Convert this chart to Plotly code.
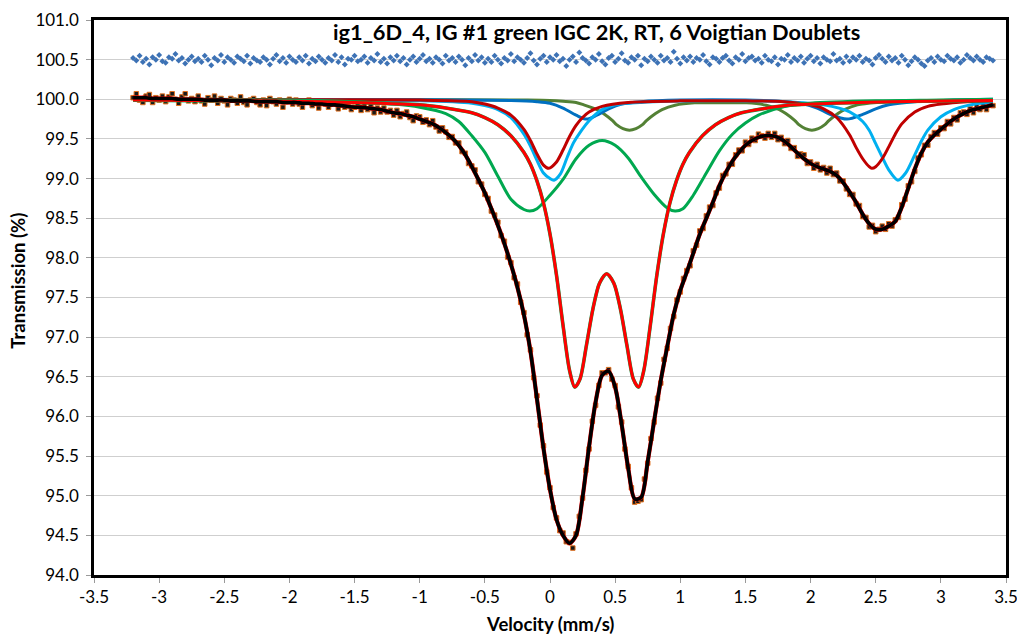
import numpy as np
import plotly.graph_objects as go

# ---------------- data ----------------
# measured spectrum: 265 velocity channels from -3.2 to 3.4 mm/s
data_v = np.linspace(-3.2, 3.4, 265)
data_t = [
    100.02, 100.07, 99.99, 99.96, 100.04, 100.06, 99.96, 100.02, 99.99, 100.04,
    99.97, 100.03, 100.07, 100.00, 99.95, 100.03, 100.07, 99.98, 100.01, 99.97,
    100.04, 99.98, 99.94, 100.02, 99.99, 100.04, 99.95, 100.01, 99.98, 99.93,
    100.01, 99.99, 99.95, 100.03, 99.96, 99.93, 99.99, 100.01, 99.96, 99.93,
    99.99, 99.92, 100.01, 99.97, 99.94, 99.99, 99.90, 99.97, 100.00, 99.94,
    99.99, 99.94, 99.90, 99.97, 99.99, 99.92, 99.95, 99.89, 99.97, 99.94,
    99.90, 99.97, 99.94, 99.88, 99.94, 99.90, 99.96, 99.87, 99.90, 99.93,
    99.86, 99.92, 99.87, 99.93, 99.83, 99.89, 99.84, 99.89, 99.84, 99.86,
    99.80, 99.86, 99.78, 99.82, 99.84, 99.77, 99.73, 99.79, 99.78, 99.71,
    99.74, 99.68, 99.73, 99.65, 99.60, 99.64, 99.59, 99.52, 99.53, 99.45,
    99.45, 99.34, 99.32, 99.19, 99.16, 99.11, 98.96, 98.93, 98.80, 98.75,
    98.59, 98.54, 98.45, 98.28, 98.21, 98.01, 97.94, 97.75, 97.67, 97.44,
    97.31, 97.03, 96.84, 96.49, 96.26, 95.89, 95.63, 95.30, 95.10, 94.85,
    94.72, 94.56, 94.53, 94.42, 94.41, 94.34, 94.52, 94.74, 94.97, 95.32,
    95.59, 95.94, 96.14, 96.39, 96.55, 96.55, 96.59, 96.47, 96.39, 96.12,
    95.93, 95.59, 95.37, 95.10, 94.92, 94.93, 94.95, 95.21, 95.41, 95.72,
    95.93, 96.23, 96.42, 96.72, 96.86, 97.11, 97.26, 97.47, 97.57, 97.74,
    97.84, 97.90, 98.09, 98.16, 98.34, 98.37, 98.53, 98.64, 98.66, 98.82,
    98.88, 99.04, 99.06, 99.18, 99.18, 99.30, 99.36, 99.35, 99.46, 99.43,
    99.51, 99.48, 99.56, 99.54, 99.51, 99.57, 99.52, 99.57, 99.49, 99.52,
    99.44, 99.48, 99.38, 99.39, 99.28, 99.31, 99.30, 99.19, 99.21, 99.13,
    99.18, 99.11, 99.14, 99.07, 99.13, 99.05, 99.07, 98.97, 98.97, 98.87,
    98.80, 98.80, 98.68, 98.66, 98.52, 98.51, 98.39, 98.41, 98.33, 98.36,
    98.40, 98.36, 98.43, 98.40, 98.48, 98.51, 98.67, 98.74, 98.91, 98.96,
    99.09, 99.26, 99.30, 99.42, 99.42, 99.53, 99.58, 99.56, 99.64, 99.63,
    99.72, 99.69, 99.77, 99.74, 99.83, 99.84, 99.81, 99.88, 99.83, 99.91,
    99.87, 99.93, 99.87, 99.94, 99.92,
]

# residual (offset to 100.5)
resid_t = [
    100.52, 100.49, 100.55, 100.47, 100.51, 100.44, 100.53, 100.50, 100.56, 100.48,
    100.46, 100.53, 100.51, 100.57, 100.49, 100.52, 100.45, 100.50, 100.54, 100.48,
    100.51, 100.47, 100.55, 100.50, 100.43, 100.52, 100.49, 100.56, 100.47, 100.53,
    100.50, 100.46, 100.54, 100.51, 100.48, 100.55, 100.45, 100.52, 100.49, 100.47,
    100.53, 100.50, 100.44, 100.51, 100.56, 100.48, 100.52, 100.46, 100.54, 100.50,
    100.47, 100.53, 100.49, 100.55, 100.45, 100.51, 100.48, 100.54, 100.50, 100.46,
    100.52, 100.49, 100.56, 100.47, 100.53, 100.44, 100.51, 100.50, 100.55, 100.48,
    100.50, 100.54, 100.46, 100.52, 100.49, 100.57, 100.47, 100.51, 100.45, 100.53,
    100.49, 100.55, 100.48, 100.52, 100.44, 100.50, 100.54, 100.47, 100.51, 100.56,
    100.48, 100.51, 100.46, 100.53, 100.50, 100.45, 100.55, 100.49, 100.52, 100.47,
    100.54, 100.50, 100.43, 100.52, 100.48, 100.56, 100.49, 100.53, 100.46, 100.51,
    100.47, 100.55, 100.50, 100.45, 100.52, 100.49, 100.57, 100.48, 100.53, 100.50,
    100.46, 100.52, 100.58, 100.49, 100.44, 100.51, 100.55, 100.47, 100.53, 100.50,
    100.56, 100.48, 100.51, 100.42, 100.50, 100.54, 100.47, 100.59, 100.52, 100.49,
    100.45, 100.53, 100.50, 100.57, 100.48, 100.44, 100.52, 100.55, 100.47, 100.51,
    100.58, 100.49, 100.46, 100.53, 100.50, 100.55, 100.43, 100.51, 100.48, 100.54,
    100.50, 100.46, 100.55, 100.49, 100.52, 100.47, 100.60, 100.51, 100.45, 100.53,
    100.49, 100.54, 100.47, 100.52, 100.50, 100.56, 100.48, 100.44, 100.53, 100.51,
    100.47, 100.52, 100.55, 100.49, 100.45, 100.53, 100.50, 100.57, 100.48, 100.52,
    100.54, 100.49, 100.51, 100.46, 100.55, 100.50, 100.48, 100.53, 100.44, 100.51,
    100.50, 100.56, 100.47, 100.52, 100.49, 100.54, 100.46, 100.51, 100.55, 100.48,
    100.52, 100.45, 100.53, 100.50, 100.48, 100.57, 100.49, 100.51, 100.46, 100.54,
    100.48, 100.53, 100.50, 100.55, 100.47, 100.51, 100.49, 100.44, 100.52, 100.56,
    100.51, 100.47, 100.54, 100.49, 100.52, 100.46, 100.55, 100.50, 100.43, 100.48,
    100.53, 100.50, 100.45, 100.42, 100.49, 100.52, 100.47, 100.54, 100.50, 100.48,
    100.55, 100.51, 100.49, 100.53, 100.46, 100.50, 100.56, 100.52, 100.49, 100.54,
    100.50, 100.47, 100.53, 100.51, 100.49,
]

# total fit (black line), 133 points from -3.2 to 3.4 mm/s
fit_v = np.linspace(-3.2, 3.4, 133)
fit_t = [
    100.02, 100.02, 100.02, 100.01, 100.01, 100.01, 100.01, 100.00, 100.00, 100.00,
    100.00, 99.99, 99.99, 99.99, 99.99, 99.98, 99.98, 99.98, 99.98, 99.97,
    99.97, 99.97, 99.97, 99.96, 99.96, 99.96, 99.95, 99.95, 99.94, 99.94,
    99.93, 99.93, 99.92, 99.91, 99.90, 99.90, 99.89, 99.88, 99.87, 99.85,
    99.83, 99.82, 99.80, 99.78, 99.75, 99.72, 99.69, 99.64, 99.58, 99.51,
    99.42, 99.30, 99.15, 98.99, 98.82, 98.62, 98.41, 98.18, 97.92, 97.63,
    97.28, 96.82, 96.22, 95.60, 95.08, 94.70, 94.50, 94.40, 94.50, 94.98,
    95.62, 96.18, 96.52, 96.57, 96.37, 95.90, 95.35, 94.96, 94.98, 95.43,
    95.95, 96.45, 96.88, 97.29, 97.59, 97.82, 98.06, 98.30, 98.50, 98.70,
    98.91, 99.08, 99.22, 99.33, 99.42, 99.48, 99.52, 99.54, 99.54, 99.52,
    99.47, 99.40, 99.32, 99.25, 99.19, 99.15, 99.12, 99.09, 99.04, 98.95,
    98.83, 98.70, 98.55, 98.43, 98.36, 98.36, 98.40, 98.46, 98.64, 98.88,
    99.12, 99.32, 99.46, 99.55, 99.62, 99.69, 99.75, 99.80, 99.84, 99.87,
    99.89, 99.91, 99.93,
]

# doublet components
red_v = [-3.2, -2.5, -2.0, -1.5, -1.0, -0.8, -0.6, -0.5, -0.4, -0.3, -0.2, -0.15, -0.1,
         -0.05, 0.0, 0.05, 0.1, 0.15, 0.19, 0.23, 0.28, 0.33, 0.38, 0.435, 0.49, 0.54,
         0.59, 0.64, 0.68, 0.72, 0.77, 0.82, 0.87, 0.92, 0.97, 1.02, 1.07, 1.17, 1.27,
         1.37, 1.47, 1.67, 1.87, 2.37, 2.87, 3.4]
red_t = [99.99, 99.98, 99.975, 99.96, 99.93, 99.89, 99.83, 99.77, 99.68, 99.54, 99.33,
         99.18, 98.97, 98.69, 98.30, 97.78, 97.15, 96.58, 96.37, 96.47, 96.90, 97.36,
         97.68, 97.80, 97.68, 97.36, 96.90, 96.47, 96.37, 96.58, 97.15, 97.78, 98.30,
         98.69, 98.97, 99.18, 99.33, 99.54, 99.68, 99.77, 99.83, 99.89, 99.93, 99.96,
         99.975, 99.985]

green_v = [-3.2, -2.0, -1.5, -1.2, -1.0, -0.8, -0.7, -0.6, -0.5, -0.4, -0.3, -0.2,
           -0.155, -0.1, 0.0, 0.1, 0.2, 0.3, 0.4, 0.5, 0.6, 0.7, 0.8, 0.9, 0.96, 1.02,
           1.1, 1.2, 1.3, 1.4, 1.5, 1.6, 1.8, 2.0, 2.5, 3.0, 3.4]
green_t = [100.0, 99.99, 99.97, 99.94, 99.90, 99.82, 99.72, 99.54, 99.33, 99.03, 98.74,
           98.61, 98.59, 98.62, 98.79, 98.99, 99.25, 99.42, 99.48, 99.42, 99.26, 99.02,
           98.80, 98.63, 98.59, 98.62, 98.79, 99.07, 99.35, 99.56, 99.70, 99.80, 99.91,
           99.95, 99.98, 99.99, 100.0]

dred_v = [-3.2, -1.0, -0.6, -0.5, -0.4, -0.3, -0.2, -0.15, -0.1, -0.05, -0.01, 0.05, 0.1,
          0.15, 0.2, 0.25, 0.3, 0.4, 0.6, 1.0, 1.5, 1.8, 2.0, 2.1, 2.2, 2.3, 2.35, 2.4,
          2.45, 2.47, 2.5, 2.55, 2.6, 2.65, 2.7, 2.8, 2.9, 3.0, 3.2, 3.4]
dred_t = [100.0, 99.99, 99.97, 99.94, 99.89, 99.80, 99.62, 99.48, 99.31, 99.17, 99.13,
          99.21, 99.36, 99.53, 99.67, 99.77, 99.84, 99.91, 99.96, 99.98, 99.98, 99.97,
          99.93, 99.88, 99.77, 99.55, 99.39, 99.25, 99.15, 99.13, 99.15, 99.25, 99.40,
          99.56, 99.69, 99.84, 99.91, 99.94, 99.97, 99.98]

lblue_v = [-3.2, -1.0, -0.6, -0.5, -0.4, -0.3, -0.2, -0.15, -0.1, -0.05, 0.0, 0.03, 0.08,
           0.13, 0.18, 0.23, 0.3, 0.4, 0.5, 0.7, 1.2, 1.8, 2.1, 2.3, 2.4, 2.45, 2.5, 2.55,
           2.6, 2.67, 2.73, 2.8, 2.85, 2.9, 3.0, 3.1, 3.2, 3.3, 3.4]
lblue_t = [100.0, 99.98, 99.95, 99.92, 99.87, 99.77, 99.56, 99.41, 99.23, 99.07, 99.00,
           98.98, 99.06, 99.26, 99.45, 99.58, 99.73, 99.87, 99.93, 99.96, 99.98, 99.97,
           99.93, 99.84, 99.72, 99.61, 99.44, 99.27, 99.11, 98.98, 99.07, 99.30, 99.47,
           99.61, 99.78, 99.87, 99.92, 99.95, 99.96]

dblue_v = [-3.2, -1.0, -0.3, -0.1, 0.0, 0.1, 0.2, 0.28, 0.36, 0.45, 0.55, 0.7, 1.0, 1.5,
           1.8, 1.95, 2.05, 2.15, 2.28, 2.4, 2.5, 2.6, 2.8, 3.1, 3.4]
dblue_t = [100.0, 99.995, 99.985, 99.97, 99.95, 99.89, 99.80, 99.75, 99.80, 99.88, 99.94,
           99.97, 99.99, 99.99, 99.97, 99.94, 99.89, 99.81, 99.75, 99.81, 99.88, 99.93,
           99.97, 99.99, 100.0]

olive_v = [-3.2, -1.0, -0.2, 0.0, 0.1, 0.2, 0.26, 0.36, 0.41, 0.48, 0.51, 0.56, 0.61,
           0.66, 0.71, 0.74, 0.81, 0.86, 0.96, 1.11, 1.31, 1.51, 1.66, 1.76, 1.81, 1.88,
           1.91, 1.96, 2.01, 2.06, 2.11, 2.14, 2.21, 2.26, 2.36, 2.51, 2.8, 3.4]
olive_t = [100.0, 99.995, 99.99, 99.985, 99.975, 99.96, 99.93, 99.87, 99.82, 99.73,
           99.68, 99.63, 99.61, 99.63, 99.68, 99.73, 99.82, 99.87, 99.925, 99.955, 99.955,
           99.955, 99.925, 99.87, 99.82, 99.73, 99.68, 99.63, 99.61, 99.63, 99.68, 99.73,
           99.82, 99.87, 99.93, 99.96, 99.98, 99.99]

x_tick_vals = [-3.5, -3, -2.5, -2, -1.5, -1, -0.5, 0, 0.5, 1, 1.5, 2, 2.5, 3, 3.5]
x_tick_text = ["-3.5", "-3", "-2.5", "-2", "-1.5", "-1", "-0.5", "0", "0.5", "1",
               "1.5", "2", "2.5", "3", "3.5"]
y_tick_vals = [94.0, 94.5, 95.0, 95.5, 96.0, 96.5, 97.0, 97.5, 98.0, 98.5, 99.0, 99.5,
               100.0, 100.5, 101.0]

title_text = "ig1_6D_4, IG #1 green IGC 2K, RT, 6 Voigtian Doublets"

# ---------------- figure ----------------
FONT = "Lato"
fig = go.Figure()

fig.add_trace(go.Scatter(x=data_v, y=resid_t, mode="markers",
                         marker=dict(symbol="diamond", size=4.6, color="#3D72B5",
                                     line=dict(width=0))))
fig.add_trace(go.Scatter(x=data_v, y=data_t, mode="markers",
                         marker=dict(symbol="square", size=4.5, color="#1a1a1a",
                                     line=dict(width=1, color="#E0701F"))))

def curve(v, t, color, width):
    fig.add_trace(go.Scatter(x=v, y=t, mode="lines",
                             line=dict(color=color, width=width, shape="spline",
                                       smoothing=0.8)))

curve(olive_v, olive_t, "#538135", 3.0)
curve(dblue_v, dblue_t, "#0070C0", 3.0)
curve(lblue_v, lblue_t, "#00B0F0", 3.0)
curve(dred_v, dred_t, "#C00000", 3.0)
curve(green_v, green_t, "#00A84F", 3.0)
curve(red_v, red_t, "#00A84F", 3.6)
curve(red_v, red_t, "#FF0000", 3.0)
curve(fit_v, fit_t, "#FF0000", 4.2)
curve(fit_v, fit_t, "#000000", 3.6)

fig.add_annotation(text=title_text, xref="paper", yref="paper", x=0.5505, y=0.979,
                   xanchor="center", yanchor="middle", showarrow=False,
                   font=dict(family=FONT, size=21.8, color="#000000", weight="bold"))
fig.add_annotation(text="Transmission (%)", xref="paper", yref="paper", x=-0.0835,
                   y=0.53, textangle=-90, xanchor="center", yanchor="middle",
                   showarrow=False,
                   font=dict(family=FONT, size=18.5, color="#000000", weight="bold"))
fig.add_annotation(text="Velocity (mm/s)", xref="paper", yref="paper", x=0.4995,
                   y=-0.088, xanchor="center", yanchor="middle", showarrow=False,
                   font=dict(family=FONT, size=18.5, color="#000000", weight="bold"))

fig.update_layout(
    width=1017, height=638,
    margin=dict(l=94, r=11, t=20, b=63, autoexpand=False),
    paper_bgcolor="white", plot_bgcolor="white",
    showlegend=False,
    font=dict(family=FONT, size=17, color="#000000"),
)
fig.update_xaxes(range=[-3.5, 3.5], tickvals=x_tick_vals, ticktext=x_tick_text,
                 automargin=False, ticklabeloverflow="allow",
                 showgrid=False, zeroline=False, showline=True, linecolor="#000000",
                 linewidth=2.5, mirror=True, ticks="outside", ticklen=5,
                 tickcolor="#9a9a9a", tickwidth=1,
                 tickfont=dict(family=FONT, size=17, color="#000000"))
fig.update_yaxes(range=[94, 101], tickvals=y_tick_vals, tickformat=".1f",
                 automargin=False,
                 showgrid=True, gridcolor="#CFCFCF", gridwidth=1.3, zeroline=False,
                 showline=True, linecolor="#000000", linewidth=2.5, mirror=True,
                 ticks="outside", ticklen=5, tickcolor="#9a9a9a", tickwidth=1,
                 ticklabelstandoff=4,
                 tickfont=dict(family=FONT, size=17, color="#000000"))

fig.write_html("out.html", config={"displayModeBar": False},
               post_script="document.body.style.margin='0';")
